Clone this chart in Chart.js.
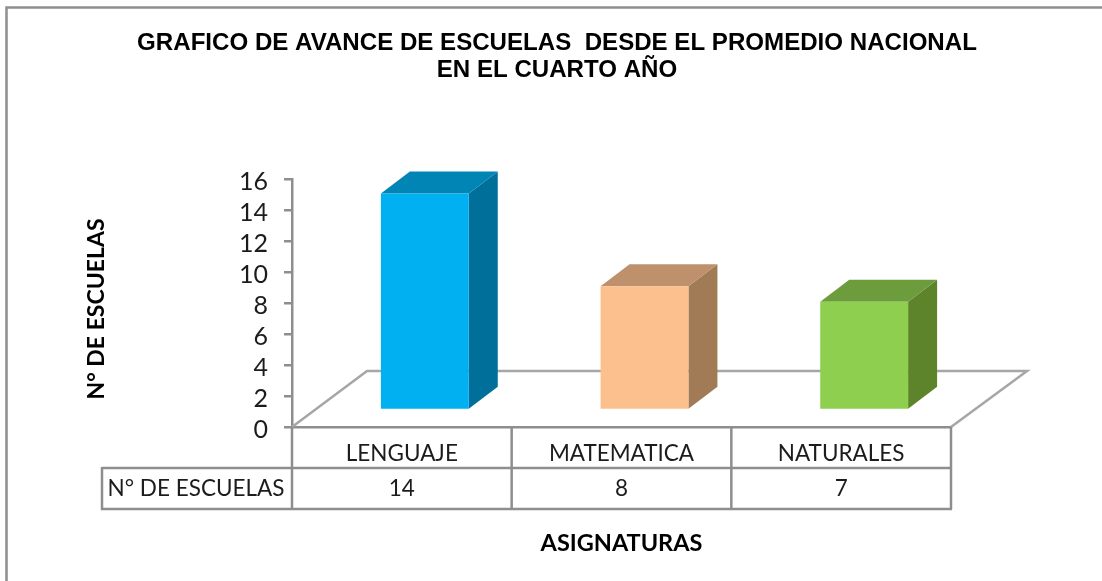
<!DOCTYPE html>
<html>
<head>
<meta charset="utf-8">
<title>Grafico de avance</title>
<script src="https://cdn.jsdelivr.net/npm/chart.js@4"></script>
<style>
body { margin: 0; background: #fff; }
canvas { display: block; }
</style>
</head>
<body>
<canvas id="avance" width="1102" height="581"></canvas>
<script>
const asignaturas = ['LENGUAJE', 'MATEMATICA', 'NATURALES'];
const escuelas = [14, 8, 7];
const tituloLineas = ['GRAFICO DE AVANCE DE ESCUELAS  DESDE EL PROMEDIO NACIONAL', 'EN EL CUARTO AÑO'];
const tituloY = 'N° DE ESCUELAS';
const tituloX = 'ASIGNATURAS';
const coloresFrente = ['#00B0F0', '#FCC08F', '#8FCF4F'];
const coloresTapa = ['#0085B5', '#BE906C', '#6C9C3B'];
const coloresLado = ['#006F99', '#A07B56', '#5D842A'];

const gris = '#8E8E8E';
const negro = '#1c1c1c';

const vista3d = {
	id: 'vista3d',
	beforeDraw(chart) {
		const c = chart.ctx;
		c.save();
		c.strokeStyle = gris;
		c.lineWidth = 2.5;
		c.beginPath();
		c.moveTo(6.5, 581);
		c.lineTo(6.5, 7.5);
		c.lineTo(1102, 7.5);
		c.stroke();
		c.restore();
	},
	beforeDatasetDraw(chart) {
		const c = chart.ctx;
		const a = chart.chartArea;
		// piso
		c.save();
		c.strokeStyle = '#A6A6A6';
		c.lineWidth = 2.5;
		c.beginPath();
		c.moveTo(a.left, a.bottom);
		c.lineTo(a.left + 75, a.bottom - 56);
		c.lineTo(a.right + 76, a.bottom - 56);
		c.lineTo(a.right, a.bottom);
		c.stroke();
		c.restore();
		// caras de cada barra
		c.save();
		c.translate(23, -17);
		chart.getDatasetMeta(0).data.forEach((b, i) => {
			const l = b.x - b.width / 2, r = b.x + b.width / 2;
			c.fillStyle = coloresLado[i];
			c.beginPath();
			c.moveTo(r, b.y);
			c.lineTo(r + 29, b.y - 22);
			c.lineTo(r + 29, b.base - 22);
			c.lineTo(r, b.base);
			c.closePath();
			c.fill();
			c.fillStyle = coloresTapa[i];
			c.beginPath();
			c.moveTo(l, b.y);
			c.lineTo(l + 29, b.y - 22);
			c.lineTo(r + 29, b.y - 22);
			c.lineTo(r, b.y);
			c.closePath();
			c.fill();
		});
	},
	afterDatasetDraw(chart) {
		chart.ctx.restore();
	},
	afterDraw(chart) {
		const c = chart.ctx;
		const a = chart.chartArea;
		const paso = (a.right - a.left) / asignaturas.length;
		c.save();
		c.strokeStyle = gris;
		c.lineWidth = 2.5;
		c.beginPath();
		for (let i = 0; i <= asignaturas.length; i++) {
			c.moveTo(a.left + i * paso, a.bottom);
			c.lineTo(a.left + i * paso, 509);
		}
		c.moveTo(102, 468);
		c.lineTo(a.right, 468);
		c.moveTo(102, 467);
		c.lineTo(102, 509);
		c.lineTo(a.right + 1, 509);
		c.stroke();
		// fila de datos
		c.fillStyle = negro;
		c.font = '22.5px Lato';
		c.textAlign = 'center';
		c.textBaseline = 'middle';
		c.fillText(tituloY, 196, 489);
		escuelas.forEach((v, i) => c.fillText(String(v), a.left + (i + 0.5) * paso, 489));
		// titulo del eje y
		c.font = 'bold 23px Lato';
		c.fillStyle = '#000';
		c.translate(97, 309);
		c.rotate(-Math.PI / 2);
		c.fillText(tituloY, 0, 0);
		c.restore();
	}
};

new Chart(document.getElementById('avance'), {
	type: 'bar',
	data: {
		labels: asignaturas,
		datasets: [{
			data: escuelas,
			backgroundColor: coloresFrente,
			barPercentage: 0.4,
			categoryPercentage: 1,
			clip: false
		}]
	},
	options: {
		responsive: false,
		animation: false,
		layout: {padding: {left: 12, right: 0, top: 29, bottom: 0}},
		plugins: {
			legend: {display: false},
			tooltip: {enabled: false},
			title: {
				display: true,
				text: tituloLineas,
				color: '#000',
				font: {family: 'Liberation Sans', size: 24.1, weight: 'bold', lineHeight: 1.15},
				padding: {top: 0, bottom: 95}
			}
		},
		scales: {
			x: {
				grid: {display: false},
				border: {color: gris, width: 2.5},
				ticks: {color: negro, font: {family: 'Lato', size: 22.5}, padding: 5, maxRotation: 0},
				title: {
					display: true,
					text: tituloX,
					color: '#000',
					font: {family: 'Lato', size: 23.5, weight: 'bold'},
					padding: {top: 0, bottom: 23}
				},
				afterFit(s) { s.height = 154; }
			},
			y: {
				min: 0,
				max: 16,
				grid: {drawOnChartArea: false, color: gris, lineWidth: 2.5, tickLength: 8},
				border: {color: gris, width: 2.5},
				ticks: {stepSize: 2, autoSkip: false, color: negro, font: {family: 'Lato', size: 25}, padding: 16, labelOffset: 3},
				afterFit(s) { s.width = 280; }
			},
			// reserva el margen derecho sin correr el titulo
			margen: {
				position: 'right',
				grid: {display: false},
				border: {display: false},
				ticks: {display: false},
				afterFit(s) { s.width = 151; }
			}
		}
	},
	plugins: [vista3d]
});
</script>
</body>
</html>
